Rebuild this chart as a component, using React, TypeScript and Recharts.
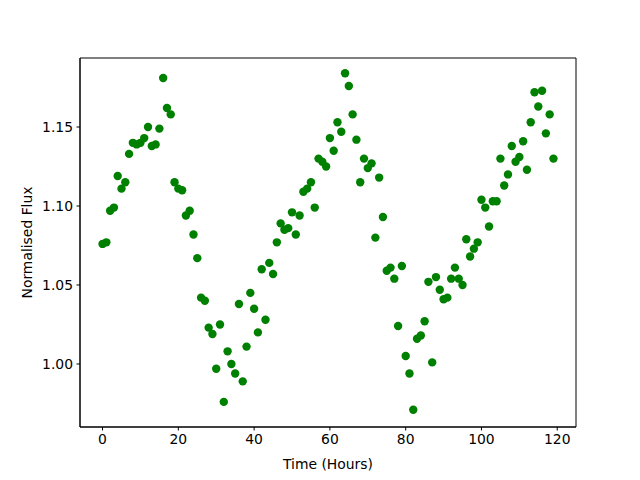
import React from 'react';
import { ScatterChart, Scatter, XAxis, YAxis, ReferenceArea } from 'recharts';

const hours: number[] = Array.from({ length: 120 }, (_, i) => i);
const flux: number[] = [
  1.076, 1.077, 1.097, 1.099, 1.119, 1.111, 1.115, 1.133, 1.140, 1.139,
  1.140, 1.143, 1.150, 1.138, 1.139, 1.149, 1.181, 1.162, 1.158, 1.115,
  1.111, 1.110, 1.094, 1.097, 1.082, 1.067, 1.042, 1.040, 1.023, 1.019,
  0.997, 1.025, 0.976, 1.008, 1.000, 0.994, 1.038, 0.989, 1.011, 1.045,
  1.035, 1.020, 1.060, 1.028, 1.064, 1.057, 1.077, 1.089, 1.085, 1.086,
  1.096, 1.082, 1.094, 1.109, 1.111, 1.115, 1.099, 1.130, 1.128, 1.125,
  1.143, 1.135, 1.153, 1.147, 1.184, 1.176, 1.158, 1.142, 1.115, 1.130,
  1.124, 1.127, 1.080, 1.118, 1.093, 1.059, 1.061, 1.054, 1.024, 1.062,
  1.005, 0.994, 0.971, 1.016, 1.018, 1.027, 1.052, 1.001, 1.055, 1.047,
  1.041, 1.042, 1.054, 1.061, 1.054, 1.050, 1.079, 1.068, 1.073, 1.077,
  1.104, 1.099, 1.087, 1.103, 1.103, 1.130, 1.113, 1.120, 1.138, 1.128,
  1.131, 1.141, 1.123, 1.153, 1.172, 1.163, 1.173, 1.146, 1.158, 1.130,
];
const xTicks = [0, 20, 40, 60, 80, 100, 120];
const yTicks = [1.0, 1.05, 1.1, 1.15];

const data = hours.map((h, i) => ({ x: h, y: flux[i] }));

const X_DOMAIN: [number, number] = [-5.95, 124.95];
const Y_DOMAIN: [number, number] = [0.9601, 1.1937];

const Dot = (props: any) => {
  const { cx, cy } = props;
  return <circle cx={cx} cy={cy} r={4.2} fill="#008000" />;
};

const font = { fontFamily: 'DejaVu Sans', fontSize: 13.9, fill: '#000' };

export default function App() {
  return (
    <div style={{ position: 'absolute', left: 0, top: 0, width: 640, height: 480, background: '#fff' }}>
      <ScatterChart width={640} height={480} margin={{ top: 58, right: 64, bottom: 0, left: 0 }}>
        <XAxis
          type="number"
          dataKey="x"
          domain={X_DOMAIN}
          ticks={xTicks}
          allowDataOverflow
          height={53}
          stroke="#000"
          tick={font}
          tickSize={3.5}
          tickMargin={3.5}
          tickLine={{ stroke: '#000' }}
          axisLine={{ stroke: '#000' }}
          label={{ value: 'Time (Hours)', position: 'insideBottom', offset: 11, style: font }}
        />
        <YAxis
          type="number"
          dataKey="y"
          domain={Y_DOMAIN}
          ticks={yTicks}
          allowDataOverflow
          width={80}
          stroke="#000"
          tick={font}
          tickSize={3.5}
          tickMargin={3.5}
          tickFormatter={(v: number) => v.toFixed(2)}
          label={{ value: 'Normalised Flux', angle: -90, position: 'insideLeft', offset: 27, style: { ...font, textAnchor: 'middle' } }}
        />
        <ReferenceArea
          x1={X_DOMAIN[0]}
          x2={X_DOMAIN[1]}
          y1={Y_DOMAIN[0]}
          y2={Y_DOMAIN[1]}
          fill="none"
          stroke="#000"
          strokeWidth={1}
          fillOpacity={0}
          ifOverflow="visible"
        />
        <Scatter data={data} shape={<Dot />} isAnimationActive={false} />
      </ScatterChart>
    </div>
  );
}
